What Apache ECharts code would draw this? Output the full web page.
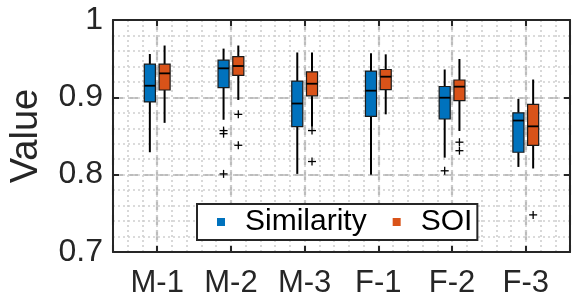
<!DOCTYPE html>
<html><head><meta charset="utf-8">
<script src="https://cdn.jsdelivr.net/npm/echarts@6/dist/echarts.min.js"></script>
<style>html,body{margin:0;padding:0;background:#fff}#c{width:581px;height:303px}</style>
</head><body><div id="c"></div>
<script>
const categories = ['M-1','M-2','M-3','F-1','F-2','F-3'];
const seriesNames = ['Similarity','SOI'];
// [min, Q1, median, Q3, max] per category
const similarityBoxes = [
  [0.829, 0.894, 0.915, 0.943, 0.956],
  [0.871, 0.9125, 0.9375, 0.948, 0.963],
  [0.801, 0.862, 0.892, 0.921, 0.958],
  [0.800, 0.8755, 0.9086, 0.934, 0.957],
  [0.822, 0.872, 0.8995, 0.914, 0.936],
  [0.810, 0.829, 0.870, 0.880, 0.898]
];
const soiBoxes = [
  [0.867, 0.9095, 0.931, 0.943, 0.967],
  [0.8966, 0.9285, 0.9405, 0.9526, 0.967],
  [0.862, 0.902, 0.9176, 0.933, 0.958],
  [0.878, 0.910, 0.9267, 0.936, 0.9556],
  [0.8565, 0.8957, 0.9138, 0.9224, 0.9496],
  [0.808, 0.838, 0.8625, 0.891, 0.923]
];
// [category index (1-based), value]
const similarityOutliers = [[2,0.857],[2,0.853],[2,0.801],[5,0.805]];
const soiOutliers = [[2,0.878],[2,0.838],[3,0.857],[3,0.817],[5,0.842],[5,0.831],[6,0.748]];
const yTicks = [0.7, 0.8, 0.9, 1];

const colors = ['#0072BD', '#D95319'];
const offsets = [-0.1, 0.1];
const boxW = 0.15;
const FONT = 'Liberation Sans';
const frame = '#262626';

function boxRender(k) {
  return function (params, api) {
    const x = api.value(0) + offsets[k];
    const pMin = api.coord([x, api.value(1)]);
    const pQ1 = api.coord([x, api.value(2)]);
    const pMed = api.coord([x, api.value(3)]);
    const pQ3 = api.coord([x, api.value(4)]);
    const pMax = api.coord([x, api.value(5)]);
    const w = api.size([boxW, 0])[0];
    const lw = {stroke: '#000', lineWidth: 2};
    return {type: 'group', children: [
      {type: 'line', shape: {x1: pMin[0], y1: pMin[1], x2: pQ1[0], y2: pQ1[1]}, style: lw},
      {type: 'line', shape: {x1: pQ3[0], y1: pQ3[1], x2: pMax[0], y2: pMax[1]}, style: lw},
      {type: 'rect', shape: {x: pQ3[0] - w/2, y: pQ3[1], width: w, height: pQ1[1] - pQ3[1]},
        style: {fill: colors[k], stroke: '#1a1a1a', lineWidth: 1.2}},
      {type: 'line', shape: {x1: pMed[0] - w/2, y1: pMed[1], x2: pMed[0] + w/2, y2: pMed[1]}, style: {stroke: '#000', lineWidth: 1.8}}
    ]};
  };
}
function outRender(k) {
  return function (params, api) {
    const p = api.coord([api.value(0) + offsets[k], api.value(1)]);
    const s = 4;
    const st = {stroke: '#000', lineWidth: 1.3};
    return {type: 'group', children: [
      {type: 'line', shape: {x1: p[0]-s, y1: p[1], x2: p[0]+s, y2: p[1]}, style: st},
      {type: 'line', shape: {x1: p[0], y1: p[1]-s, x2: p[0], y2: p[1]+s}, style: st}
    ]};
  };
}

const boxData = [similarityBoxes, soiBoxes].map(arr => arr.map((b, i) => [i + 1].concat(b)));
const outData = [similarityOutliers, soiOutliers];

const tickStyle = {show: true, inside: true, length: 6, lineStyle: {color: frame, width: 2}};
const axisLineStyle = {show: true, onZero: false, lineStyle: {color: frame, width: 2}};
const dashed = {show: true, lineStyle: {color: '#bcbcbc', width: 2.2, type: [10, 5]}};
const dotted = {show: true, lineStyle: {color: '#cfcfcf', width: 1.6, type: [2, 3]}};

const option = {
  animation: false,
  backgroundColor: '#fff',
  grid: {left: 105, right: 11, top: 20, bottom: 51, containLabel: false},
  legend: {
    data: seriesNames,
    left: 197, top: 204,
    orient: 'horizontal',
    icon: 'rect', itemWidth: 8, itemHeight: 8, itemGap: 26,
    padding: [3, 5, 3, 20],
    borderColor: frame, borderWidth: 2, backgroundColor: '#fff',
    formatter: n => '{t|' + n + '}',
    textStyle: {rich: {t: {fontFamily: FONT, fontSize: 30, color: '#000', padding: [0, 0, 0, 15], lineHeight: 35}}}
  },
  xAxis: [
    {type: 'value', position: 'bottom', min: 0.4, max: 6.6, splitNumber: 6,
      axisLine: axisLineStyle, axisTick: tickStyle, splitLine: dashed,
      axisLabel: {show: true, margin: 16, color: '#262626', fontFamily: FONT, fontSize: 31,
        formatter: v => { const r = Math.round(v); return Math.abs(v - r) < 1e-6 && r >= 1 && r <= 6 ? categories[r - 1] : ''; }}},
    {type: 'value', position: 'top', min: 0.4, max: 6.6, splitNumber: 6,
      axisLine: axisLineStyle, axisTick: tickStyle, splitLine: {show: false}, axisLabel: {show: false}},
    {type: 'value', position: 'bottom', min: 0.4, max: 6.6, interval: 0.2,
      axisLine: {show: false}, axisTick: {show: false}, axisLabel: {show: false}, splitLine: dotted}
  ],
  yAxis: [
    {type: 'value', position: 'left', min: 0.7, max: 1, splitNumber: 3,
      axisLine: axisLineStyle, axisTick: tickStyle, splitLine: dashed,
      axisLabel: {show: true, margin: 10, color: '#262626', fontFamily: FONT, fontSize: 32,
        formatter: v => { const m = yTicks.find(t => Math.abs(t - v) < 1e-6); return m === undefined ? '' : String(m); }},
      name: 'Value', nameLocation: 'middle', nameGap: 67, nameRotate: 90,
      nameTextStyle: {fontFamily: FONT, fontSize: 38, color: '#262626'}},
    {type: 'value', position: 'right', min: 0.7, max: 1, splitNumber: 3,
      axisLine: axisLineStyle, axisTick: tickStyle, splitLine: {show: false}, axisLabel: {show: false}},
    {type: 'value', position: 'left', min: 0.7, max: 1, interval: 0.02,
      axisLine: {show: false}, axisTick: {show: false}, axisLabel: {show: false}, splitLine: dotted}
  ],
  series: [
    {name: seriesNames[0], type: 'custom', renderItem: boxRender(0), data: boxData[0], xAxisIndex: 0, yAxisIndex: 0,
      itemStyle: {color: colors[0]}, encode: {x: 0, y: [1, 2, 3, 4, 5]}, z: 5},
    {name: seriesNames[1], type: 'custom', renderItem: boxRender(1), data: boxData[1], xAxisIndex: 0, yAxisIndex: 0,
      itemStyle: {color: colors[1]}, encode: {x: 0, y: [1, 2, 3, 4, 5]}, z: 5},
    {name: 'out0', type: 'custom', renderItem: outRender(0), data: outData[0], encode: {x: 0, y: 1}, z: 6},
    {name: 'out1', type: 'custom', renderItem: outRender(1), data: outData[1], encode: {x: 0, y: 1}, z: 6}
  ]
};
const chart = echarts.init(document.getElementById('c'), null, {renderer: 'canvas'});
chart.setOption(option);
</script></body></html>
